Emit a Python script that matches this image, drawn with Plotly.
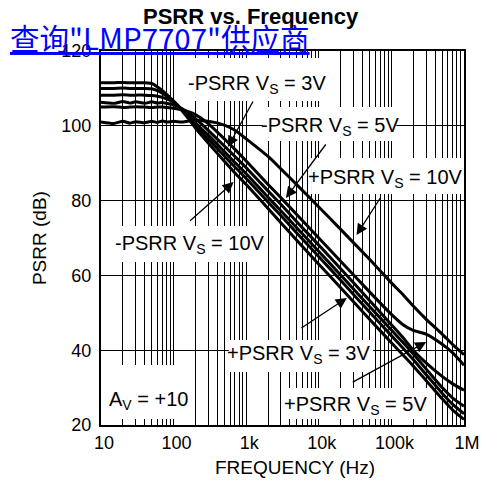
import plotly.graph_objects as go
import numpy as np

# ---------------- data ----------------
freq_hz = [10, 15, 20, 25, 30, 40, 50, 60, 70, 80, 100, 130, 160, 200, 300, 500, 700,
           1000, 2000, 3000, 5000, 10000, 20000, 50000, 100000, 150000, 200000,
           300000, 500000, 700000, 1000000]

psrr_a = [101.0, 100.6, 101.2, 100.7, 101.1, 100.8, 101.2, 100.9, 101.3, 101.0, 101.2, 101.0,
          101.3, 101.4, 101.2, 100.2, 98.8, 96.5, 91.8, 88.5, 84.2, 78.3, 72.3, 64.3, 58.0,
          54.5, 51.8, 48.3, 44.3, 41.5, 38.8]
psrr_b = [105.0, 105.1, 104.9, 105.0, 105.1, 105.0, 104.9, 105.0, 105.0, 104.9, 104.7, 104.3,
          103.8, 103.0, 100.6, 96.5, 93.7, 90.6, 84.3, 80.8, 76.2, 70.0, 63.8, 55.6, 49.6,
          46.6, 45.3, 44.3, 41.6, 39.3, 36.0]
psrr_c = [106.3, 106.0, 106.5, 106.1, 106.4, 106.0, 106.4, 106.1, 106.2, 106.0, 105.6, 104.6,
          103.4, 101.9, 98.8, 94.6, 91.8, 88.8, 82.6, 79.0, 74.3, 68.1, 61.8, 53.3, 46.8,
          43.0, 40.0, 36.6, 33.0, 31.0, 29.3]
psrr_d = [108.2, 108.2, 108.3, 108.2, 108.2, 108.2, 108.1, 107.9, 107.6, 107.2, 106.3, 104.4,
          102.7, 100.8, 97.5, 93.1, 90.2, 87.2, 80.9, 77.3, 72.7, 66.4, 60.1, 51.7, 45.4,
          41.7, 39.0, 35.0, 30.0, 27.2, 25.0]
psrr_e = [110.0, 110.0, 110.1, 110.0, 110.0, 110.0, 109.9, 109.4, 108.7, 107.9, 106.5, 104.3,
          102.3, 100.1, 96.5, 91.9, 89.0, 85.9, 79.6, 76.0, 71.3, 65.0, 58.7, 50.2, 43.9,
          40.2, 37.5, 33.5, 28.5, 25.5, 23.0]
psrr_f = [111.5, 111.5, 111.6, 111.5, 111.5, 111.5, 111.3, 110.4, 109.4, 108.4, 106.6, 104.1,
          101.9, 99.4, 95.4, 90.5, 87.4, 84.3, 77.9, 74.1, 69.3, 63.0, 56.7, 48.3, 42.0,
          38.4, 35.8, 31.9, 27.0, 24.0, 21.5]

x_tick_vals = [m * 10 ** d for d in range(1, 6) for m in range(1, 10)] + [1000000]
x_tick_labels = {10: "10", 100: "100", 1000: "1k", 10000: "10k", 100000: "100k", 1000000: "1M"}
y_tick_vals = [20, 40, 60, 80, 100, 120]
x_log_range = [1, 6]
y_range = [20, 120]

# ---------------- layout helpers (pixel -> paper / data) ----------------
W, H = 492, 484
L, R, T, B = 101, 16, 51, 59
PW, PH = W - L - R, H - T - B


def px(xp):
    return (xp - L) / PW


def py(yp):
    return (H - B - yp) / PH


def dx(xp):  # pixel -> data frequency (log axis, raw value)
    return 10 ** (x_log_range[0] + px(xp) * (x_log_range[1] - x_log_range[0]))


def dy(yp):
    return y_range[0] + py(yp) * (y_range[1] - y_range[0])


fig = go.Figure()
for ys in [psrr_a, psrr_b, psrr_c, psrr_d, psrr_e, psrr_f]:
    fig.add_trace(go.Scatter(x=freq_hz, y=ys, mode="lines",
                             line=dict(color="black", width=3, shape="spline", smoothing=0.6),
                             showlegend=False, hoverinfo="skip"))

font_main = "Liberation Sans, Arial, Helvetica, sans-serif"

# white label boxes (above grid, below curves)
boxes = [
    (188, 336, 58, 101),
    (268, 406, 107, 141),
    (318, 474, 158, 194),
    (108, 272, 226, 262),
    (233, 382, 340, 372),
    (290, 440, 388, 419),
    (102, 195, 365, 419),
]
for x0, x1, y0, y1 in boxes:
    fig.add_shape(type="rect", xref="x", yref="y",
                  x0=dx(x0), x1=dx(x1), y0=dy(y1), y1=dy(y0),
                  fillcolor="white", line=dict(width=0), layer="between")

labels = [
    ("-PSRR V<sub>S</sub> = 3V", 262, 84),
    ("-PSRR V<sub>S</sub> = 5V", 338, 126),
    ("+PSRR V<sub>S</sub> = 10V", 395, 178),
    ("-PSRR V<sub>S</sub> = 10V", 193, 244),
    ("+PSRR V<sub>S</sub> = 3V", 305, 354),
    ("+PSRR V<sub>S</sub> = 5V", 364, 405),
    ("A<sub>V</sub> = +10", 150, 400),
]
for txt, cx, cy in labels:
    fig.add_annotation(text=txt, xref="paper", yref="paper", x=px(cx), y=py(cy),
                       xanchor="center", yanchor="middle", showarrow=False,
                       font=dict(family=font_main, size=20, color="black"))

# arrows: (head_x, head_y, tail_x, tail_y) in pixels
arrows = [
    (232, 147, 258, 100),
    (292, 198, 333, 143),
    (365, 235, 390, 196),
    (238, 182, 193, 222),
    (355, 298, 308, 329),
    (437, 342, 362, 383),
]
for hx, hy, tx, ty in arrows:
    fig.add_annotation(text="", xref="paper", yref="paper", x=px(hx), y=py(hy),
                       ax=tx - hx, ay=ty - hy, axref="pixel", ayref="pixel",
                       showarrow=True, arrowhead=2, arrowsize=1.7, arrowwidth=1.3,
                       arrowcolor="black", standoff=0, startstandoff=0)

# titles
fig.add_annotation(text="<b>PSRR vs. Frequency</b>", xref="paper", yref="paper",
                   x=px(256), y=py(16), xanchor="center", yanchor="middle", showarrow=False,
                   font=dict(family=font_main, size=22, color="black"))
fig.add_annotation(text="FREQUENCY (Hz)", xref="paper", yref="paper",
                   x=px(301), y=py(467), xanchor="center", yanchor="middle", showarrow=False,
                   font=dict(family=font_main, size=19, color="black"))
fig.add_annotation(text="PSRR (dB)", xref="paper", yref="paper", textangle=-90,
                   x=px(37), y=py(238), xanchor="center", yanchor="middle", showarrow=False,
                   font=dict(family=font_main, size=19, color="black"))
fig.add_annotation(text="查询\"LMP7707\"供应商", xref="paper", yref="paper",
                   x=px(5), y=py(37), xanchor="left", yanchor="middle", showarrow=False,
                   font=dict(family="Noto Sans CJK SC", size=29.5, color="#0000ff",
                             lineposition="under"))

fig.update_xaxes(type="log", range=x_log_range, tickmode="array", tickvals=x_tick_vals,
                 ticktext=[x_tick_labels.get(v, "") for v in x_tick_vals],
                 showgrid=True, gridcolor="black", gridwidth=1,
                 ticks="inside", ticklen=6, tickcolor="black", tickwidth=1,
                 showline=True, linecolor="black", linewidth=2, mirror="ticks",
                 ticklabelshift=3,
                 tickfont=dict(family=font_main, size=18, color="black"), zeroline=False)
fig.update_yaxes(range=y_range, tickmode="array", tickvals=y_tick_vals,
                 showgrid=True, gridcolor="black", gridwidth=1.2,
                 ticks="", showline=True, linecolor="black", linewidth=2, mirror=True,
                 ticklabelstandoff=4,
                 tickfont=dict(family=font_main, size=18, color="black"), zeroline=False)

fig.update_layout(width=W, height=H, margin=dict(l=L, r=R, t=T, b=B),
                  paper_bgcolor="white", plot_bgcolor="white", showlegend=False)

fig.write_html("out.html", config={"displayModeBar": False},
               post_script="document.body.style.margin='0';document.body.style.padding='0';")
